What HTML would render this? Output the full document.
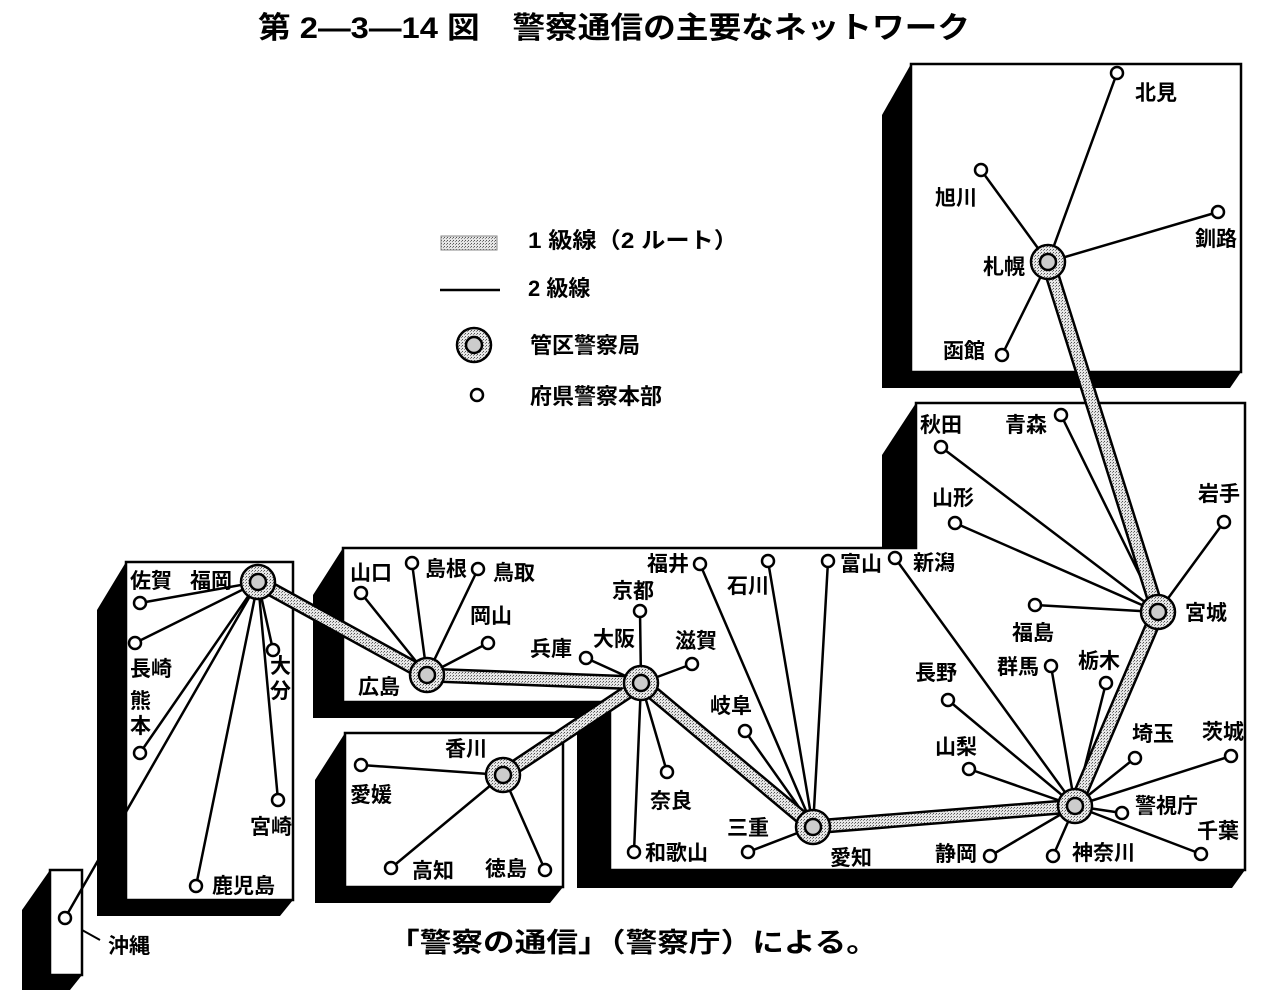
<!DOCTYPE html>
<html><head><meta charset="utf-8"><style>
body{margin:0;background:#fff}
svg{display:block}
text{font-family:"Liberation Sans","Noto Sans CJK JP",sans-serif;font-weight:bold;fill:#000}
</style></head><body>
<svg width="1265" height="997" viewBox="0 0 1265 997" xmlns="http://www.w3.org/2000/svg">
<defs>
<pattern id="st" width="3" height="3" patternUnits="userSpaceOnUse"><rect width="3" height="3" fill="#e6e6e6"/><rect width="1" height="1" fill="#555"/><rect x="2" y="1" width="1" height="1" fill="#888"/></pattern>
</defs>
<text x="258" y="38" font-size="30" textLength="712" lengthAdjust="spacingAndGlyphs">第 2—3—14 図　警察通信の主要なネットワーク</text>

<!-- shadows -->
<g fill="#000">
<polygon points="911,64 882,115 882,388 1230,388 1241,372"/>
<polygon points="916,403 882,455 882,560 916,560"/>
<polygon points="343,548 313,595 313,718 577,718 577,888 1232,888 1245,870 1245,548"/>
<polygon points="345,733 315,780 315,903 550,903 563,887"/>
<polygon points="126,562 97,610 97,916 280,916 293,900"/>
<polygon points="50,870 22,910 22,990 70,990 82,975"/>
</g>
<g fill="#fff" stroke="#000" stroke-width="2.5">
<rect x="911" y="64" width="330" height="308"/>
<polygon points="343,548 916,548 916,403 1245,403 1245,870 610,870 610,702 343,702"/>
<rect x="345" y="733" width="218" height="154"/>
<rect x="126" y="562" width="167" height="338"/>
<rect x="50" y="870" width="32" height="105"/>
</g>

<!-- 2級線 -->
<g stroke="#000" stroke-width="2.5" fill="none">
<path d="M1048,262 L1117,73 M1048,262 L981,170 M1048,262 L1218,212 M1048,262 L1002,355"/>
<path d="M1158,612 L1061,415 M1158,612 L941,447 M1158,612 L955,523 M1158,612 L1224,522 M1158,612 L1035,605"/>
<path d="M1075,806 L895,558 M1075,806 L1051,666 M1075,806 L1106,683 M1075,806 L948,700 M1075,806 L969,769 M1075,806 L1135,758 M1075,806 L1231,756 M1075,806 L1122,813 M1075,806 L1201,854 M1075,806 L1053,856 M1075,806 L990,856"/>
<path d="M813,827 L700,564 M813,827 L768,561 M813,827 L828,561 M813,827 L745,731 M813,827 L748,852"/>
<path d="M641,683 L640,611 M641,683 L586,658 M641,683 L692,664 M641,683 L667,772 M641,683 L634,852"/>
<path d="M427,675 L361,593 M427,675 L412,563 M427,675 L478,569 M427,675 L488,643"/>
<path d="M503,775 L361,765 M503,775 L391,868 M503,775 L545,870"/>
<path d="M258,582 L140,603 M258,582 L135,643 M258,582 L273,650 M258,582 L140,753 M258,582 L278,800 M258,582 L196,886 M258,582 L65,918"/>
</g>

<!-- 1級線 -->
<g stroke="#000" stroke-width="15" stroke-linecap="round" fill="none">
<path d="M1048,262 L1158,612 L1075,806 L813,827 L641,683 L427,675 L258,582 M641,683 L503,775"/>
</g>
<g stroke="url(#st)" stroke-width="10" stroke-linecap="round" fill="none">
<path d="M1048,262 L1158,612 L1075,806 L813,827 L641,683 L427,675 L258,582 M641,683 L503,775"/>
</g>

<!-- hubs -->
<g stroke="#000" stroke-width="2.5">
<g fill="url(#st)">
<circle cx="1048" cy="262" r="17"/><circle cx="1158" cy="612" r="17"/><circle cx="1075" cy="806" r="17"/><circle cx="813" cy="827" r="17"/><circle cx="641" cy="683" r="17"/><circle cx="427" cy="675" r="17"/><circle cx="258" cy="582" r="17"/><circle cx="503" cy="775" r="17"/><circle cx="474" cy="345" r="17"/>
</g>
<g fill="#ccc">
<circle cx="1048" cy="262" r="8"/><circle cx="1158" cy="612" r="8"/><circle cx="1075" cy="806" r="8"/><circle cx="813" cy="827" r="8"/><circle cx="641" cy="683" r="8"/><circle cx="427" cy="675" r="8"/><circle cx="258" cy="582" r="8"/><circle cx="503" cy="775" r="8"/><circle cx="474" cy="345" r="8"/>
</g>
</g>
<!-- small nodes -->
<g fill="#fff" stroke="#000" stroke-width="2.5">
<circle cx="1117" cy="73" r="6"/><circle cx="981" cy="170" r="6"/><circle cx="1218" cy="212" r="6"/><circle cx="1002" cy="355" r="6"/>
<circle cx="1061" cy="415" r="6"/><circle cx="941" cy="447" r="6"/><circle cx="955" cy="523" r="6"/><circle cx="1224" cy="522" r="6"/><circle cx="1035" cy="605" r="6"/>
<circle cx="895" cy="558" r="6"/><circle cx="1051" cy="666" r="6"/><circle cx="1106" cy="683" r="6"/><circle cx="948" cy="700" r="6"/><circle cx="969" cy="769" r="6"/><circle cx="1135" cy="758" r="6"/><circle cx="1231" cy="756" r="6"/><circle cx="1122" cy="813" r="6"/><circle cx="1201" cy="854" r="6"/><circle cx="1053" cy="856" r="6"/><circle cx="990" cy="856" r="6"/>
<circle cx="700" cy="564" r="6"/><circle cx="768" cy="561" r="6"/><circle cx="828" cy="561" r="6"/><circle cx="745" cy="731" r="6"/><circle cx="748" cy="852" r="6"/>
<circle cx="640" cy="611" r="6"/><circle cx="586" cy="658" r="6"/><circle cx="692" cy="664" r="6"/><circle cx="667" cy="772" r="6"/><circle cx="634" cy="852" r="6"/>
<circle cx="361" cy="593" r="6"/><circle cx="412" cy="563" r="6"/><circle cx="478" cy="569" r="6"/><circle cx="488" cy="643" r="6"/>
<circle cx="361" cy="765" r="6"/><circle cx="391" cy="868" r="6"/><circle cx="545" cy="870" r="6"/>
<circle cx="140" cy="603" r="6"/><circle cx="135" cy="643" r="6"/><circle cx="273" cy="650" r="6"/><circle cx="140" cy="753" r="6"/><circle cx="278" cy="800" r="6"/><circle cx="196" cy="886" r="6"/><circle cx="65" cy="918" r="6"/>
<circle cx="477" cy="395" r="6"/>
</g>

<!-- legend -->
<rect x="441" y="236" width="56" height="14" fill="url(#st)" stroke="#888" stroke-width="1"/>
<line x1="440" y1="290" x2="500" y2="290" stroke="#000" stroke-width="2.5"/>
<g font-size="22">
<text x="528" y="248" textLength="210" lengthAdjust="spacingAndGlyphs">1 級線（2 ルート）</text>
<text x="528" y="296">2 級線</text>
<text x="530" y="353">管区警察局</text>
<text x="530" y="404">府県警察本部</text>
</g>

<!-- labels -->
<g font-size="21">
<text x="1135" y="100">北見</text><text x="935" y="205">旭川</text><text x="1195" y="246">釧路</text><text x="983" y="274">札幌</text><text x="943" y="358">函館</text>
<text x="920" y="432">秋田</text><text x="1005" y="432">青森</text><text x="932" y="505">山形</text><text x="1198" y="501">岩手</text><text x="1185" y="620">宮城</text><text x="1012" y="640">福島</text>
<text x="913" y="570">新潟</text><text x="997" y="674">群馬</text><text x="1078" y="668">栃木</text><text x="915" y="680">長野</text><text x="935" y="754">山梨</text><text x="1132" y="741">埼玉</text><text x="1202" y="739">茨城</text><text x="1135" y="813">警視庁</text><text x="1197" y="838">千葉</text><text x="935" y="861">静岡</text><text x="1072" y="860">神奈川</text>
<text x="647" y="571">福井</text><text x="727" y="593">石川</text><text x="840" y="571">富山</text><text x="612" y="598">京都</text><text x="593" y="646">大阪</text><text x="530" y="656">兵庫</text><text x="675" y="648">滋賀</text><text x="710" y="713">岐阜</text><text x="650" y="808">奈良</text><text x="645" y="860">和歌山</text><text x="727" y="835">三重</text><text x="830" y="865">愛知</text>
<text x="350" y="580">山口</text><text x="425" y="576">島根</text><text x="493" y="580">鳥取</text><text x="470" y="623">岡山</text><text x="358" y="694">広島</text>
<text x="445" y="756">香川</text><text x="350" y="802">愛媛</text><text x="412" y="878">高知</text><text x="485" y="876">徳島</text>
<text x="130" y="588">佐賀</text><text x="190" y="588">福岡</text><text x="130" y="676">長崎</text><text x="130" y="708">熊</text><text x="130" y="733">本</text><text x="270" y="673">大</text><text x="270" y="698">分</text><text x="250" y="834">宮崎</text><text x="212" y="893">鹿児島</text><text x="108" y="953">沖縄</text>
</g>
<line x1="82" y1="930" x2="100" y2="940" stroke="#000" stroke-width="2"/>
<text x="388" y="952" font-size="27" textLength="490" lengthAdjust="spacingAndGlyphs">「警察の通信」（警察庁）による。</text>
</svg>
</body></html>
